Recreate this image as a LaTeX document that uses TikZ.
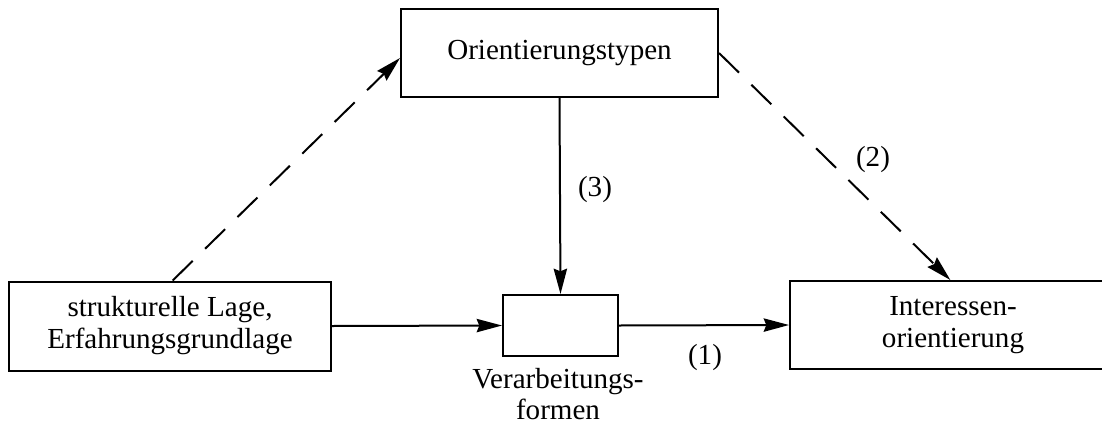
\documentclass[tikz,border=0pt]{standalone}
\usepackage{fontspec}
\setmainfont{Liberation Serif}
\usetikzlibrary{arrows.meta,calc}
\begin{document}
\begin{tikzpicture}[x=0.75pt,y=-0.75pt,
  box/.style={draw,line width=1.5pt,inner sep=0pt,align=center,font=\fontsize{21.8}{24}\selectfont},
  lbl/.style={inner sep=0pt,align=center,font=\fontsize{21.8}{23.5}\selectfont},
  arr/.style={line width=1.5pt,-{Stealth[length=19pt,width=10pt,inset=2pt]}},
  dasharr/.style={arr,dash pattern=on 21pt off 13pt}]
\useasboundingbox (0,0) rectangle (1102,425);
\clip (0,0) rectangle (1102,425);
\node[box,minimum width=322*0.75pt,minimum height=89*0.75pt] (L) at (170,326) {strukturelle Lage,\\Erfahrungsgrundlage};
\node[box,minimum width=317*0.75pt,minimum height=88*0.75pt] (T) at (559.5,53) {Orientierungstypen};
\node[box,minimum width=115*0.75pt,minimum height=61*0.75pt] (M) at (560.5,325.5) {};
\node[box,minimum width=326*0.75pt,minimum height=88*0.75pt,text width=300*0.75pt] (R) at (953,325) {Interessen-\\orientierung};
\node[lbl,anchor=north] (V) at (558,368) {Verarbeitungs-\\formen};
\node[lbl] (n1) at (705,358) {(1)};
\node[lbl] (n2) at (873,160) {(2)};
\node[lbl] (n3) at (595,190) {(3)};
\draw[dasharr] ([xshift=2pt]L.north) -- ([yshift=-3.75pt]T.west);
\draw[dasharr] (T.east) -- ([xshift=-2pt]R.north);
\draw[arr] (T.south) -- (M.north);
\draw[arr] (L.east) -- (M.west);
\draw[arr] (M.east) -- (R.west);
\end{tikzpicture}
\end{document}
